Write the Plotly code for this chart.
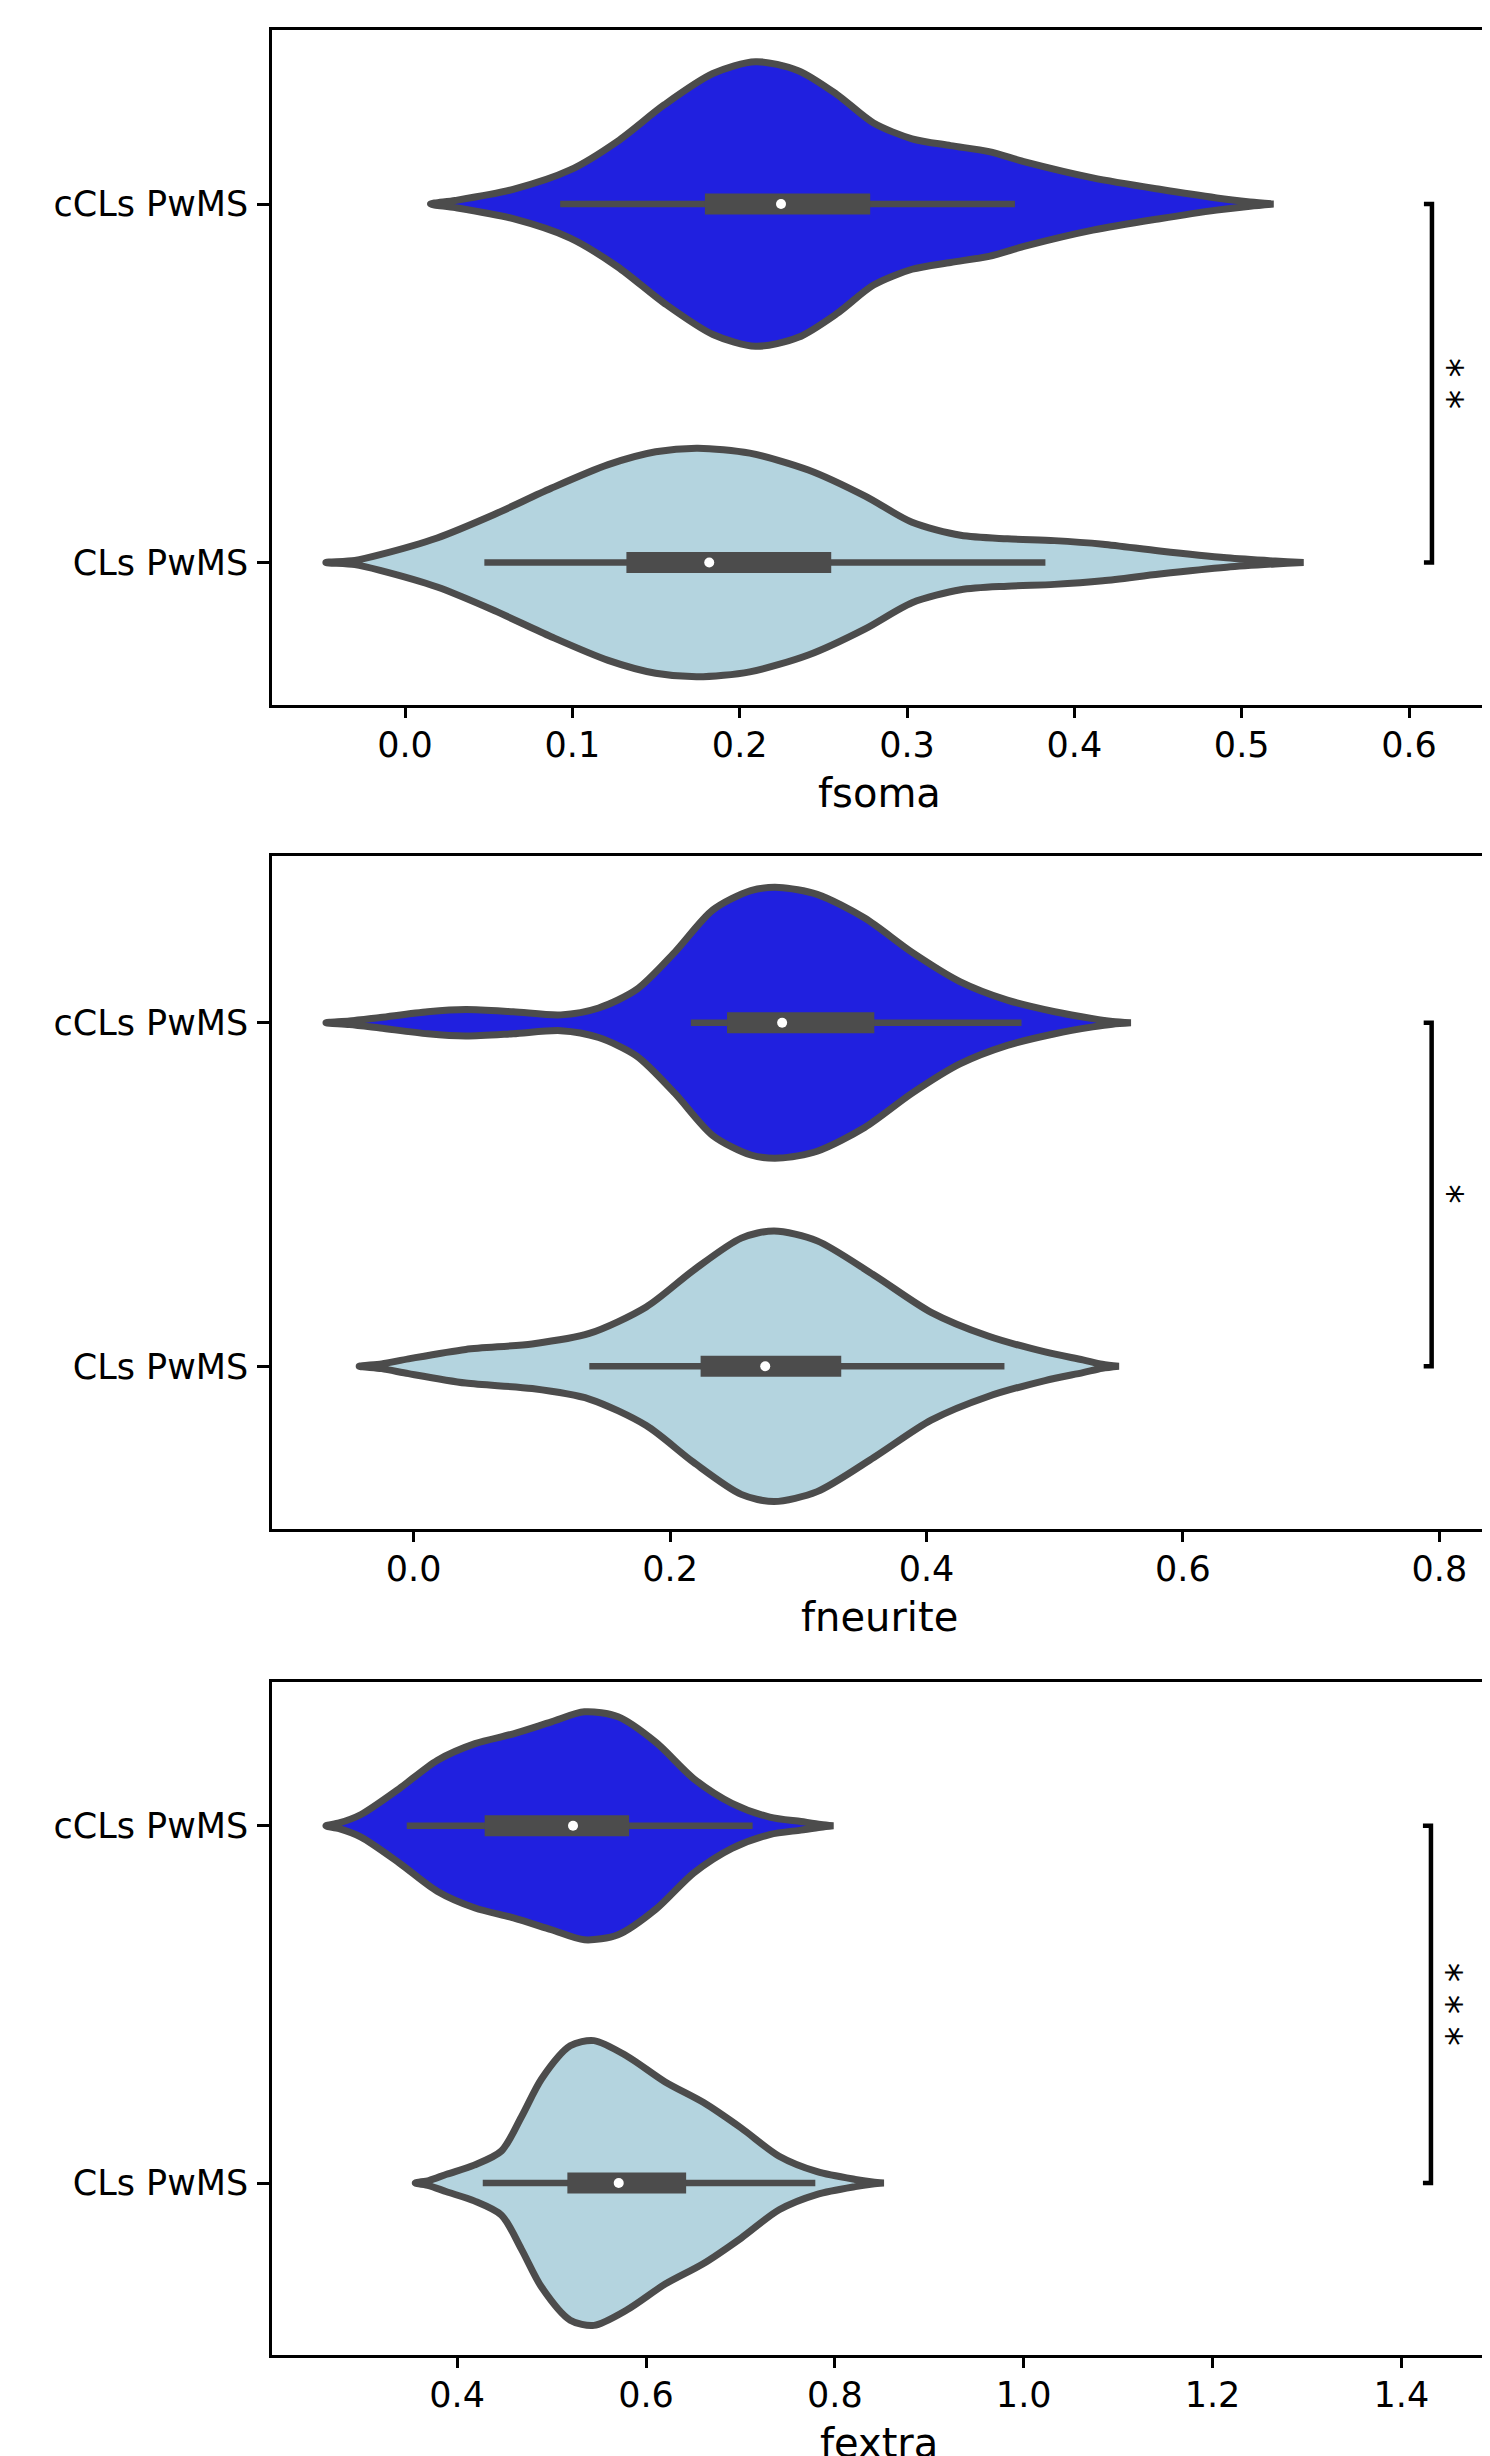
import plotly.graph_objects as go

# ---------------- data ----------------
categories = ["cCLs PwMS", "CLs PwMS"]
cat_pos = [0, 1]
fill_colors = ["#2020df", "#b4d4df"]

# fsoma -- density outlines (value, half-width in category units)
fsoma_ccls_x = [0.0152, 0.030, 0.0646, 0.0987, 0.127, 0.155, 0.184, 0.2095, 0.235, 0.258, 0.280, 0.303,
                0.326, 0.349, 0.371, 0.411, 0.451, 0.485, 0.505, 0.519]
fsoma_ccls_w = [0.0, 0.010, 0.041, 0.095, 0.175, 0.277, 0.364, 0.397, 0.372, 0.306, 0.226, 0.182,
                0.163, 0.146, 0.117, 0.073, 0.041, 0.017, 0.006, 0.0]
fsoma_cls_x = [-0.0473, -0.030, -0.0149, 0.0192, 0.0533, 0.0873, 0.1214, 0.1498, 0.175, 0.206, 0.241,
               0.275, 0.303, 0.332, 0.360, 0.388, 0.417, 0.451, 0.491, 0.520, 0.537]
fsoma_cls_w = [0.0, 0.006, 0.022, 0.0685, 0.134, 0.207, 0.273, 0.309, 0.319, 0.305, 0.258,
               0.185, 0.112, 0.076, 0.066, 0.061, 0.051, 0.032, 0.013, 0.004, 0.0]
# box stats: whisker low, q1, median, q3, whisker high
fsoma_ccls_stats = [0.0927, 0.1792, 0.2247, 0.2780, 0.3645]
fsoma_cls_stats = [0.0474, 0.1323, 0.1818, 0.2547, 0.3827]

# fneurite
fneurite_ccls_x = [-0.0684, -0.050, -0.026, 0.011, 0.0406, 0.0776, 0.1147, 0.1443, 0.174, 0.2036, 0.2332,
                   0.263, 0.285, 0.3147, 0.3518, 0.3888, 0.426, 0.463, 0.500, 0.5297, 0.545, 0.5594]
fneurite_ccls_w = [0.0, 0.005, 0.0154, 0.032, 0.0385, 0.032, 0.023, 0.043, 0.097, 0.205, 0.328,
                   0.385, 0.394, 0.374, 0.305, 0.205, 0.120, 0.066, 0.032, 0.012, 0.004, 0.0]
fneurite_cls_x = [-0.0425, -0.025, -0.004, 0.0406, 0.0924, 0.137, 0.1814, 0.2184, 0.2555, 0.2811, 0.3147,
                  0.3592, 0.4036, 0.448, 0.4925, 0.522, 0.537, 0.550]
fneurite_cls_w = [0.0, 0.007, 0.0216, 0.049, 0.065, 0.0955, 0.1726, 0.280, 0.373, 0.394, 0.365,
                  0.265, 0.157, 0.088, 0.0416, 0.0185, 0.006, 0.0]
fneurite_ccls_stats = [0.2162, 0.2444, 0.2874, 0.3593, 0.4741]
fneurite_cls_stats = [0.137, 0.2238, 0.2742, 0.3335, 0.4608]

# fextra
fextra_ccls_x = [0.261, 0.275, 0.2982, 0.3385, 0.3788, 0.419, 0.4596, 0.4999, 0.5348, 0.5704, 0.6107,
                 0.6505, 0.691, 0.731, 0.764, 0.785, 0.7984]
fextra_ccls_w = [0.0, 0.008, 0.0317, 0.1036, 0.183, 0.230, 0.2576, 0.291, 0.319, 0.305, 0.233,
                 0.132, 0.063, 0.0245, 0.012, 0.004, 0.0]
fextra_cls_x = [0.3556, 0.370, 0.3888, 0.418, 0.447, 0.468, 0.4895, 0.5197, 0.5449, 0.580, 0.6203, 0.6605,
                0.7008, 0.741, 0.7813, 0.8216, 0.840, 0.8518]
fextra_cls_w = [0.0, 0.007, 0.0245, 0.050, 0.090, 0.185, 0.292, 0.384, 0.3986, 0.355, 0.283, 0.226,
                0.154, 0.075, 0.0317, 0.010, 0.003, 0.0]
fextra_ccls_stats = [0.3466, 0.4291, 0.5227, 0.5821, 0.7129]
fextra_cls_stats = [0.4271, 0.5167, 0.5711, 0.6425, 0.7793]

panel_labels = ["fsoma", "fneurite", "fextra"]
significance = ["**", "*", "***"]
x_tickvals = [[0.0, 0.1, 0.2, 0.3, 0.4, 0.5, 0.6],
              [0.0, 0.2, 0.4, 0.6, 0.8],
              [0.4, 0.6, 0.8, 1.0, 1.2, 1.4]]
bracket_x = [0.6137, 0.794, 1.4313]
star_x = [0.6235, 0.8070, 1.4490]

# ---------------- layout / styling ----------------
OFF = 8  # browser body margin
W, H = 1490 - OFF, 2456 - OFF
FONT = "DejaVu Sans"
OUTLINE = "#4c4c4c"
x_left, x_right = 272 - OFF, 1486 - OFF
panel_px = [(30 - OFF, 705 - OFF), (855.5 - OFF, 1529.4 - OFF), (1682 - OFF, 2355 - OFF)]  # top, bottom
x_ranges = [[-0.0795, 0.6460], [-0.1105, 0.8364], [0.2039, 1.4896]]
y_ranges = [[1.3975, -0.4854], [1.475, -0.487], [1.4815, -0.4026]]
cap_len = [0.0048, 0.0062, 0.0085]

panels = [
    [(fsoma_ccls_x, fsoma_ccls_w, fsoma_ccls_stats), (fsoma_cls_x, fsoma_cls_w, fsoma_cls_stats)],
    [(fneurite_ccls_x, fneurite_ccls_w, fneurite_ccls_stats), (fneurite_cls_x, fneurite_cls_w, fneurite_cls_stats)],
    [(fextra_ccls_x, fextra_ccls_w, fextra_ccls_stats), (fextra_cls_x, fextra_cls_w, fextra_cls_stats)],
]

fig = go.Figure()
layout = dict(width=W, height=H, margin=dict(l=0, r=0, t=0, b=0),
              plot_bgcolor="white", paper_bgcolor="white", showlegend=False,
              font=dict(family=FONT, color="black", size=35))
annotations = []

for i, (panel, label) in enumerate(zip(panels, panel_labels)):
    xa = "x" if i == 0 else f"x{i+1}"
    ya = "y" if i == 0 else f"y{i+1}"
    top, bot = panel_px[i]
    for (vx, vw, st), pos, col in zip(panel, cat_pos, fill_colors):
        px = list(vx) + list(reversed(vx))
        py = [pos - w for w in vw] + [pos + w for w in reversed(vw)]
        fig.add_trace(go.Scatter(x=px, y=py, mode="lines", fill="toself", fillcolor=col,
                                 line=dict(color=OUTLINE, width=7, shape="spline", smoothing=0.8),
                                 xaxis=xa, yaxis=ya, hoverinfo="skip"))
        # whiskers
        fig.add_trace(go.Scatter(x=[st[0], st[4]], y=[pos, pos], mode="lines",
                                 line=dict(color=OUTLINE, width=6.5), xaxis=xa, yaxis=ya, hoverinfo="skip"))
        # box
        fig.add_trace(go.Scatter(x=[st[1], st[3]], y=[pos, pos], mode="lines",
                                 line=dict(color=OUTLINE, width=21), xaxis=xa, yaxis=ya, hoverinfo="skip"))
        # median
        fig.add_trace(go.Scatter(x=[st[2]], y=[pos], mode="markers",
                                 marker=dict(color="white", size=10, line=dict(width=0)),
                                 xaxis=xa, yaxis=ya, hoverinfo="skip"))
    # significance bracket
    bx = bracket_x[i]
    fig.add_trace(go.Scatter(x=[bx - cap_len[i], bx, bx, bx - cap_len[i]],
                             y=[cat_pos[0], cat_pos[0], cat_pos[1], cat_pos[1]],
                             mode="lines", line=dict(color="black", width=4.5),
                             xaxis=xa, yaxis=ya, hoverinfo="skip"))
    annotations.append(dict(x=star_x[i], y=(cat_pos[0] + cat_pos[1]) / 2, xref=xa, yref=ya,
                            text=" ".join(significance[i]), textangle=90, showarrow=False,
                            font=dict(family=FONT, size=39, color="black"),
                            xanchor="center", yanchor="middle"))
    # x-axis label
    annotations.append(dict(x=0.5, y=0, xref=f"{xa} domain", yref=f"{ya} domain",
                            text=label, showarrow=False, yshift=-88,
                            font=dict(family=FONT, size=40, color="black"),
                            xanchor="center", yanchor="middle"))

    axis_common = dict(showline=True, linecolor="black", linewidth=2.5, mirror=True,
                       showgrid=False, zeroline=False, ticks="outside", tickcolor="black",
                       tickwidth=2.5, tickfont=dict(family=FONT, size=35, color="black"))
    layout[f"xaxis{'' if i == 0 else i+1}"] = dict(
        domain=[x_left / W, x_right / W], range=x_ranges[i], anchor=ya,
        tickvals=x_tickvals[i], tickformat=".1f", ticklen=10, ticklabelstandoff=-3, **axis_common)
    layout[f"yaxis{'' if i == 0 else i+1}"] = dict(
        domain=[1 - bot / H, 1 - top / H], range=y_ranges[i], anchor=xa,
        tickvals=cat_pos, ticktext=categories, ticklen=12, ticklabelstandoff=2, **axis_common)

layout["annotations"] = annotations
fig.update_layout(**layout)
fig.write_html("out.html")
